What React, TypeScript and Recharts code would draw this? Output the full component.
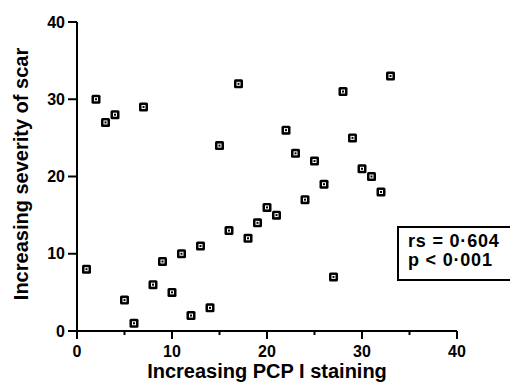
import { ScatterChart, Scatter, XAxis, YAxis, Label } from 'recharts'

// PCP I staining rank vs scar severity rank
const pcpRank = [1, 2, 3, 4, 5, 6, 7, 8, 9, 10, 11, 12, 13, 14, 15, 16, 17, 18, 19, 20, 21, 22, 23, 24, 25, 26, 27, 28, 29, 30, 31, 32, 33]
const scarRank = [8, 30, 27, 28, 4, 1, 29, 6, 9, 5, 10, 2, 11, 3, 24, 13, 32, 12, 14, 16, 15, 26, 23, 17, 22, 19, 7, 31, 25, 21, 20, 18, 33]

const xTicks = [0, 5, 10, 15, 20, 25, 30, 35, 40]
const yTicks = [0, 10, 20, 30, 40]
const statLines = ['rs = 0·604', 'p < 0·001']

const FONT = '"Liberation Sans", Arial, Helvetica, sans-serif'

const points = pcpRank.map((x, i) => ({ x, y: scarRank[i] }))

function XTick(props: any) {
  const { x, y, payload } = props
  const major = payload.value % 10 === 0
  return (
    <g>
      <line x1={x} x2={x} y1={y} y2={y + (major ? 8 : 4)} stroke="#000" strokeWidth={2} />
      {major && (
        <text x={x} y={y + 26} textAnchor="middle" fontSize={16} fontWeight="bold" fontFamily={FONT} fill="#000">
          {payload.value}
        </text>
      )}
    </g>
  )
}

function Marker(props: any) {
  const { cx, cy } = props
  return (
    <g>
      <rect x={cx - 4.5} y={cy - 4.5} width={9} height={9} rx={1.5} fill="#000" />
      <rect x={cx - 1.5} y={cy - 1.5} width={3} height={3} fill="none" stroke="#fff" strokeWidth={1} />
    </g>
  )
}

export default function App() {
  return (
    <div style={{ position: 'absolute', left: 0, top: 0, width: 510, height: 389, background: '#fff' }}>
      <ScatterChart width={510} height={389} margin={{ top: 22, right: 53, bottom: 0, left: 0 }}>
        <XAxis
          type="number"
          dataKey="x"
          domain={[0, 40]}
          ticks={xTicks}
          interval={0}
          height={58}
          stroke="#000"
          axisLine={{ stroke: '#000', strokeWidth: 2 }}
          tickLine={false}
          tickSize={0}
          tickMargin={0}
          tick={<XTick />}
        >
          <Label
            content={() => (
              <text x={267} y={378} textAnchor="middle" fontSize={20} fontWeight="bold" fontFamily={FONT} fill="#000">
                Increasing PCP I staining
              </text>
            )}
          />
        </XAxis>
        <YAxis
          type="number"
          dataKey="y"
          domain={[0, 40]}
          ticks={yTicks}
          interval={0}
          width={77}
          stroke="#000"
          axisLine={{ stroke: '#000', strokeWidth: 2 }}
          tickLine={{ stroke: '#000', strokeWidth: 2 }}
          tickSize={9}
          tickMargin={3}
          tick={{ fontSize: 16, fontWeight: 'bold', fontFamily: FONT, fill: '#000' }}
        >
          <Label
            content={() => (
              <text
                x={27.5}
                y={174}
                transform="rotate(-90 27.5 174)"
                textAnchor="middle"
                fontSize={20}
                fontWeight="bold"
                fontFamily={FONT}
                fill="#000"
              >
                Increasing severity of scar
              </text>
            )}
          />
        </YAxis>
        <Scatter data={points} shape={<Marker />} isAnimationActive={false} />
      </ScatterChart>
      <div
        style={{
          position: 'absolute',
          left: 397,
          top: 226,
          width: 110,
          height: 47,
          border: '2px solid #000',
          fontFamily: FONT,
          fontWeight: 'bold',
          fontSize: 18,
          lineHeight: '19px',
          letterSpacing: 0.8,
          padding: '4px 0 0 9px',
          boxSizing: 'content-box',
          color: '#000',
        }}
      >
        {statLines.map(s => (
          <div key={s}>{s}</div>
        ))}
      </div>
    </div>
  )
}
